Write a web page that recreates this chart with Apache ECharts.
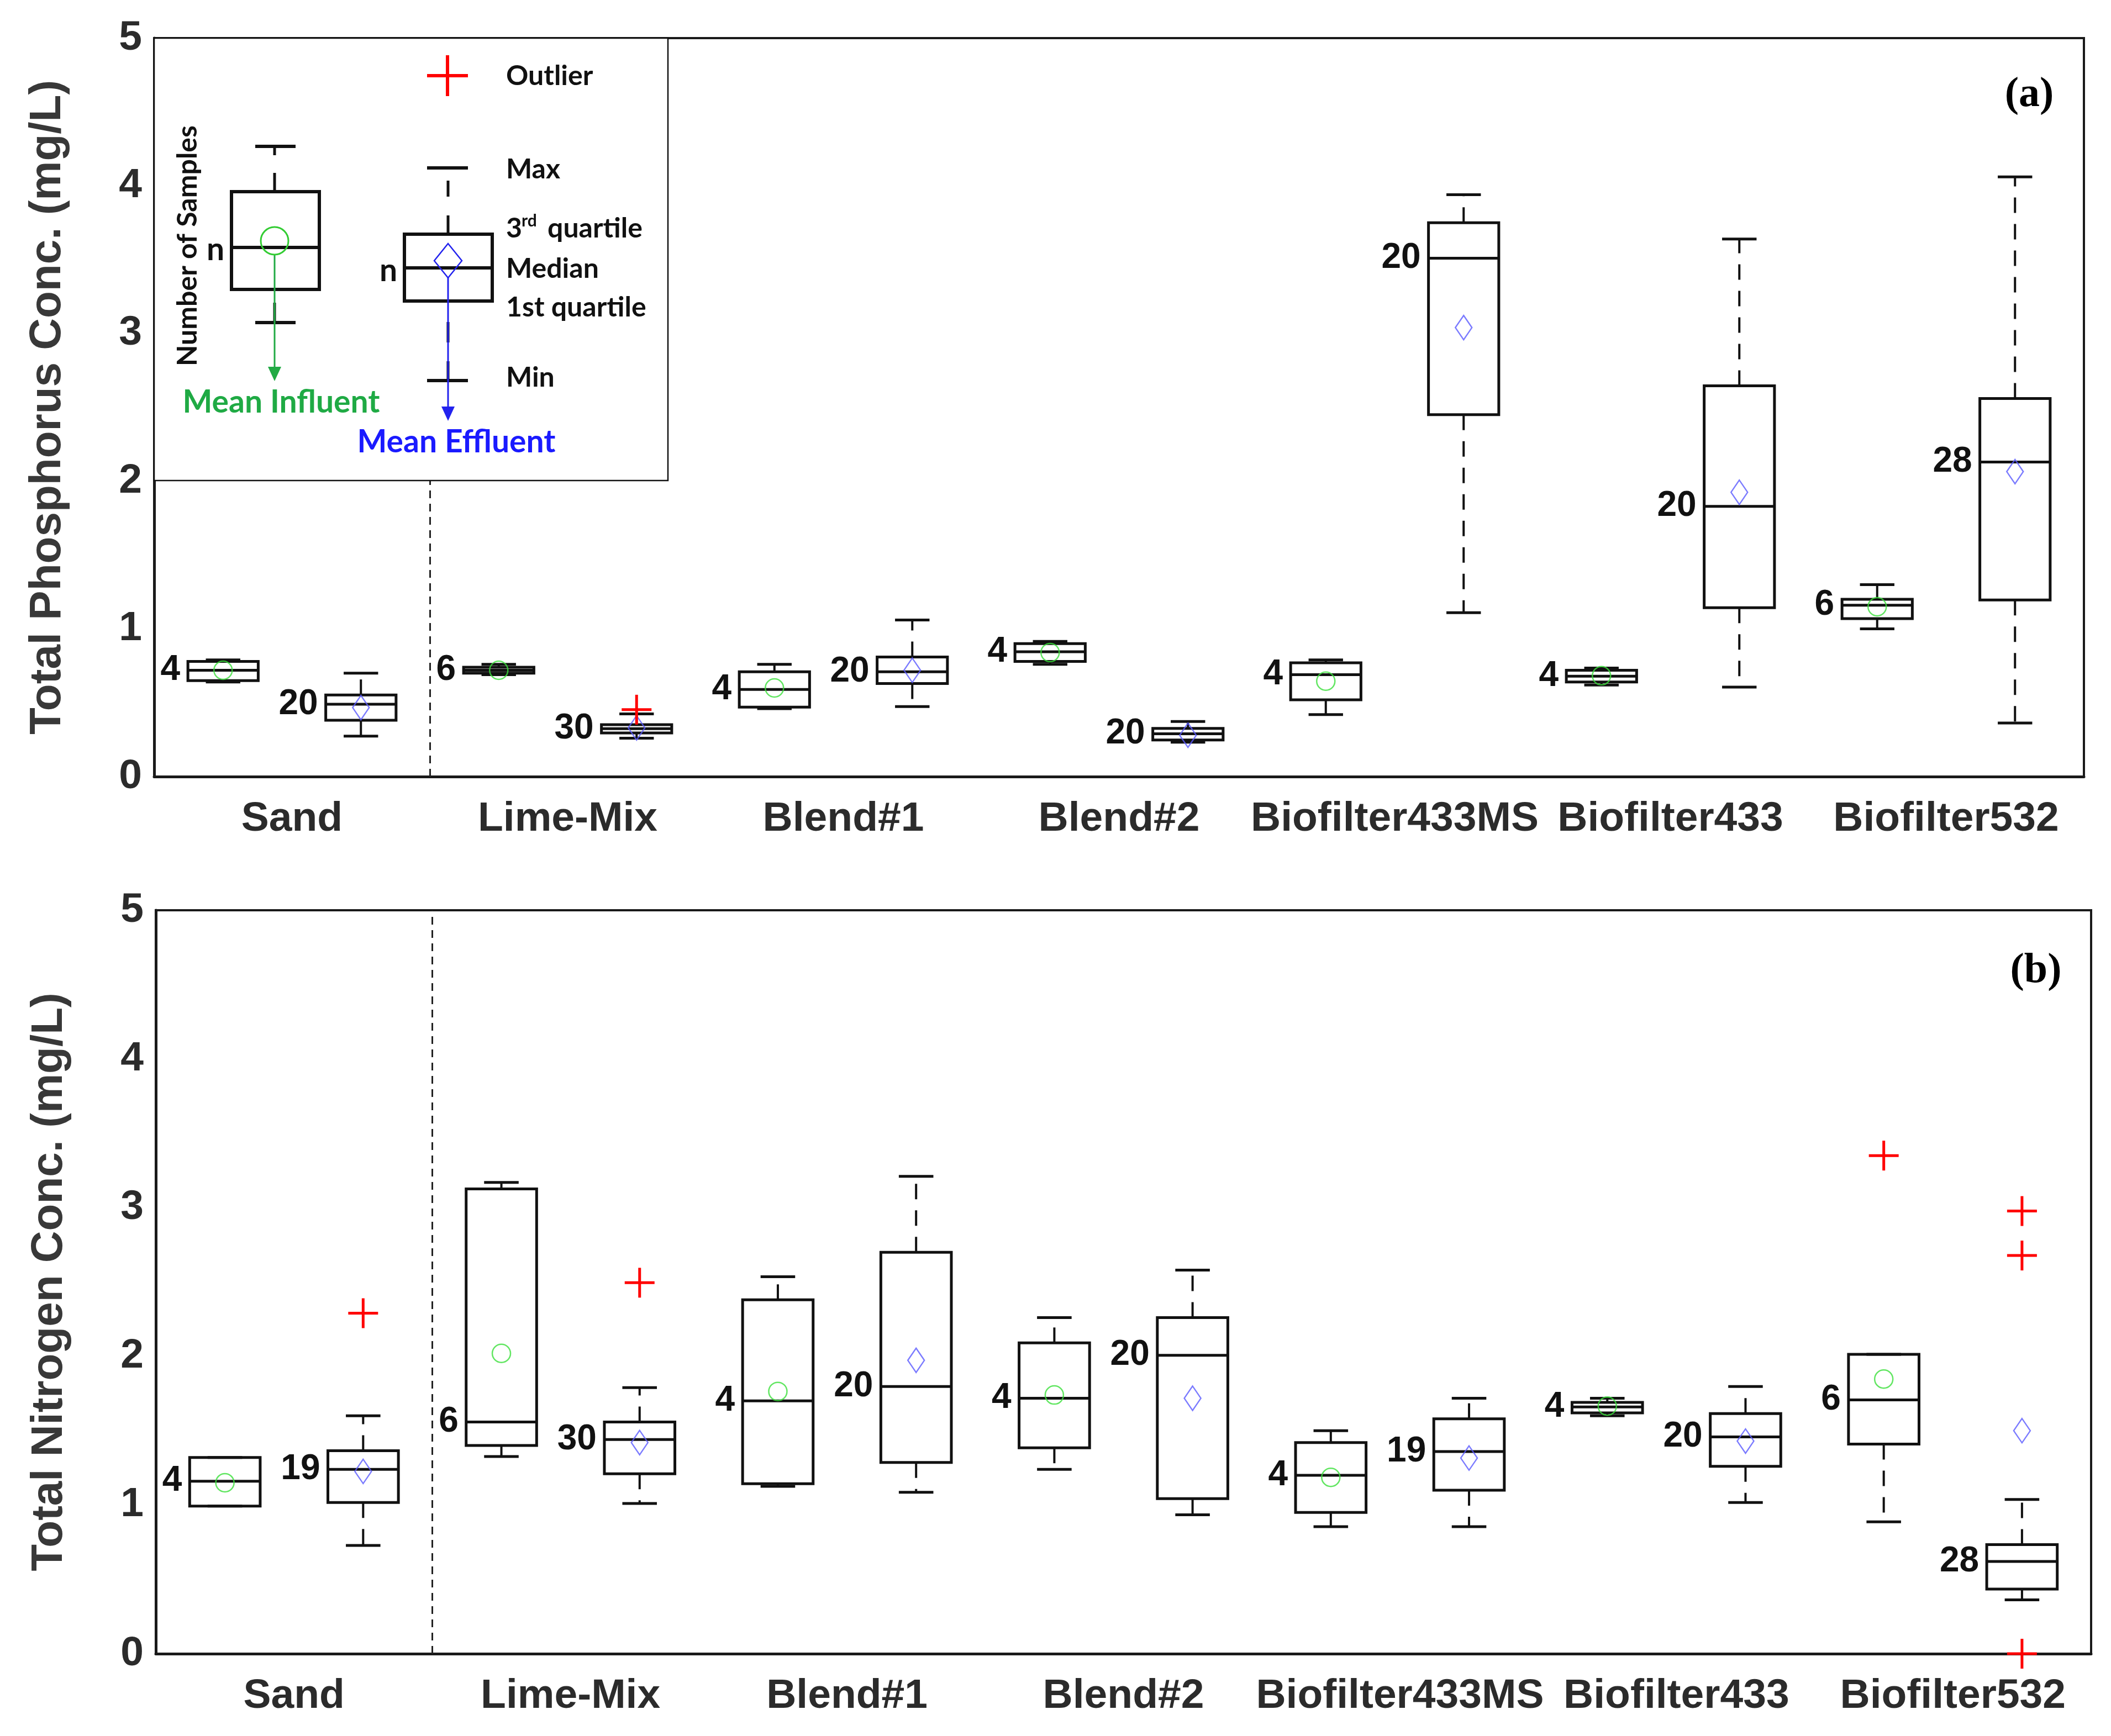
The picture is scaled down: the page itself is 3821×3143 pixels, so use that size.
<!DOCTYPE html>
<html>
<head>
<meta charset="utf-8">
<script src="https://cdn.jsdelivr.net/npm/echarts@6/dist/echarts.min.js"></script>
<style>
html,body{margin:0;padding:0;background:#fff;}
#chart{width:3821px;height:3143px;}
</style>
</head>
<body>
<div id="chart"></div>
<script>
// ---------------- DATA ----------------
const CATEGORIES = ['Sand', 'Lime-Mix', 'Blend#1', 'Blend#2', 'Biofilter433MS', 'Biofilter433', 'Biofilter532'];
const Y_TICK_LABELS = ['0', '1', '2', '3', '4', '5'];

// Total Phosphorus (a): [min, q1, median, q3, max]
const TP_INF_STATS = [
  [0.64, 0.65, 0.72, 0.78, 0.79],
  [0.69, 0.70, 0.72, 0.74, 0.76],
  [0.46, 0.47, 0.59, 0.71, 0.76],
  [0.76, 0.78, 0.845, 0.90, 0.915],
  [0.42, 0.52, 0.69, 0.77, 0.79],
  [0.62, 0.64, 0.68, 0.72, 0.735],
  [1.00, 1.07, 1.16, 1.20, 1.30]
];
const TP_INF_MEAN = [0.72, 0.72, 0.60, 0.84, 0.646, 0.683, 1.15];
const TP_INF_N = [4, 6, 4, 4, 4, 4, 6];
const TP_INF_OUTLIERS = [[], [], [], [], [], [], []];

const TP_EFF_STATS = [
  [0.274, 0.381, 0.49, 0.553, 0.70],
  [0.26, 0.295, 0.324, 0.352, 0.424],
  [0.474, 0.63, 0.71, 0.81, 1.06],
  [0.233, 0.248, 0.29, 0.326, 0.373],
  [1.11, 2.45, 3.51, 3.75, 3.94],
  [0.606, 1.143, 1.83, 2.646, 3.64],
  [0.363, 1.196, 2.13, 2.56, 4.06]
];
const TP_EFF_MEAN = [0.467, 0.33, 0.72, 0.28, 3.04, 1.925, 2.065];
const TP_EFF_N = [20, 30, 20, 20, 20, 20, 28];
const TP_EFF_OUTLIERS = [[], [0.453], [], [], [], [], []];

// Total Nitrogen (b)
const TN_INF_STATS = [
  [0.993, 0.993, 1.16, 1.32, 1.32],
  [1.326, 1.40, 1.558, 3.126, 3.17],
  [1.126, 1.143, 1.70, 2.38, 2.535],
  [1.24, 1.385, 1.718, 2.09, 2.26],
  [0.854, 0.95, 1.20, 1.42, 1.50],
  [1.60, 1.62, 1.66, 1.69, 1.718],
  [0.887, 1.41, 1.707, 2.013, 2.013]
];
const TN_INF_MEAN = [1.15, 2.02, 1.764, 1.74, 1.186, 1.665, 1.847];
const TN_INF_N = [4, 6, 4, 4, 4, 4, 6];
const TN_INF_OUTLIERS = [[], [], [], [], [], [], [3.35]];

const TN_EFF_STATS = [
  [0.728, 1.017, 1.24, 1.365, 1.60],
  [1.01, 1.21, 1.44, 1.558, 1.79],
  [1.086, 1.286, 1.797, 2.70, 3.21],
  [0.934, 1.043, 2.007, 2.26, 2.58],
  [0.854, 1.10, 1.36, 1.58, 1.718],
  [1.017, 1.26, 1.458, 1.615, 1.797],
  [0.362, 0.435, 0.62, 0.734, 1.037]
];
const TN_EFF_MEAN = [1.226, 1.42, 1.973, 1.718, 1.316, 1.43, 1.50];
const TN_EFF_N = [19, 30, 20, 20, 19, 20, 28];
const TN_EFF_OUTLIERS = [[2.29], [2.495], [], [], [], [], [2.977, 2.678, 0.0]];

// ---------------- STYLE / LAYOUT ----------------
const BOX_W = 0.51, CAP_W = 0.25;
const INK = '#111';
const GREEN = '#3be03b', BLUE = '#5a5aff', RED = '#ff0000';

function groupX(i, side) { return 2 * i + (side === 'inf' ? 0.5 : 1.5); }

function boxData(stats, n, side) {
  return stats.map((s, i) => [groupX(i, side)].concat(s).concat([n[i]]));
}
function meanData(means, side) { return means.map((m, i) => [groupX(i, side), m]); }
function outlierData(outs, side) {
  const d = [];
  outs.forEach((arr, i) => arr.forEach(v => d.push([groupX(i, side), v])));
  return d;
}

function renderBox(params, api) {
  const x = api.value(0);
  const mn = api.value(1), q1 = api.value(2), md = api.value(3), q3 = api.value(4), mx = api.value(5), n = api.value(6);
  const pMin = api.coord([x, mn]), pQ1 = api.coord([x, q1]), pMd = api.coord([x, md]);
  const pQ3 = api.coord([x, q3]), pMax = api.coord([x, mx]);
  const hw = api.size([BOX_W, 0])[0] / 2;
  const cw = api.size([CAP_W, 0])[0] / 2;
  const cx = pMd[0];
  const dash = {stroke: INK, lineWidth: 4, lineDash: [28, 20]};
  const solid = {stroke: INK, lineWidth: 5};
  return {
    type: 'group',
    children: [
      {type: 'line', shape: {x1: cx, y1: pQ3[1], x2: cx, y2: pMax[1]}, style: dash},
      {type: 'line', shape: {x1: cx, y1: pQ1[1], x2: cx, y2: pMin[1]}, style: dash},
      {type: 'line', shape: {x1: cx - cw, y1: pMax[1], x2: cx + cw, y2: pMax[1]}, style: solid},
      {type: 'line', shape: {x1: cx - cw, y1: pMin[1], x2: cx + cw, y2: pMin[1]}, style: solid},
      {type: 'rect', shape: {x: cx - hw, y: pQ3[1], width: 2 * hw, height: pQ1[1] - pQ3[1]},
        style: {fill: 'none', stroke: INK, lineWidth: 5}},
      {type: 'line', shape: {x1: cx - hw, y1: pMd[1], x2: cx + hw, y2: pMd[1]}, style: solid},
      {type: 'text', x: cx - hw - 14, y: pMd[1],
        style: {text: String(n), align: 'right', verticalAlign: 'middle', fill: INK,
          font: 'bold 64px "Liberation Sans", Arial, sans-serif'}}
    ]
  };
}

function renderOutlier(params, api) {
  const p = api.coord([api.value(0), api.value(1)]);
  const h = 27;
  const st = {stroke: RED, lineWidth: 5};
  return {
    type: 'group',
    children: [
      {type: 'line', shape: {x1: p[0] - h, y1: p[1], x2: p[0] + h, y2: p[1]}, style: st},
      {type: 'line', shape: {x1: p[0], y1: p[1] - h, x2: p[0], y2: p[1] + h}, style: st}
    ]
  };
}

function panelSeries(idx, infStats, infN, infMean, infOut, effStats, effN, effMean, effOut) {
  const common = {xAxisIndex: idx, yAxisIndex: idx, silent: true};
  return [
    Object.assign({type: 'custom', renderItem: renderBox, data: boxData(infStats, infN, 'inf'), clip: false}, common),
    Object.assign({type: 'custom', renderItem: renderBox, data: boxData(effStats, effN, 'eff'), clip: false,
      markLine: {
        silent: true, symbol: ['none', 'none'], label: {show: false},
        lineStyle: {type: [14, 10], width: 3, color: '#222'},
        data: [{xAxis: 2}]
      }}, common),
    Object.assign({type: 'scatter', data: meanData(infMean, 'inf'), symbol: 'circle', symbolSize: 33,
      itemStyle: {color: 'rgba(0,0,0,0)', borderColor: GREEN, borderWidth: 2.5}, z: 5}, common),
    Object.assign({type: 'scatter', data: meanData(effMean, 'eff'), symbol: 'diamond', symbolSize: [30, 44],
      itemStyle: {color: 'rgba(0,0,0,0)', borderColor: BLUE, borderWidth: 2.5}, z: 5}, common),
    Object.assign({type: 'custom', renderItem: renderOutlier,
      data: outlierData(infOut, 'inf').concat(outlierData(effOut, 'eff')), clip: false, z: 6}, common)
  ];
}

function xAxisCfg(idx) {
  return {
    type: 'value', gridIndex: idx, min: 0, max: 14, interval: 1,
    axisLine: {show: true, lineStyle: {color: '#1a1a1a', width: 5}},
    axisTick: {show: false}, splitLine: {show: false},
    axisLabel: {
      margin: 40, color: '#2b2b2b', fontSize: 75, fontWeight: 'bold', fontFamily: '"Liberation Sans", Arial, sans-serif',
      showMinLabel: true, showMaxLabel: true,
      formatter: v => { const r = Math.round(v); return (r % 2 === 1) ? CATEGORIES[(r - 1) / 2] : ''; }
    }
  };
}
function yAxisCfg(idx, name) {
  return {
    type: 'value', gridIndex: idx, min: 0, max: 5, interval: 1,
    name: name, nameLocation: 'middle', nameGap: 152,
    nameTextStyle: {fontSize: 80, fontWeight: 'bold', color: '#383838', fontFamily: '"Liberation Sans", Arial, sans-serif'},
    axisLine: {show: true, lineStyle: {color: '#1a1a1a', width: 5}},
    axisTick: {show: false}, splitLine: {show: false},
    axisLabel: {margin: 22, color: '#2b2b2b', fontSize: 75, fontWeight: 'bold', fontFamily: '"Liberation Sans", Arial, sans-serif',
      formatter: v => Y_TICK_LABELS[Math.round(v)]}
  };
}

// ---- inset legend (schematic, pixel layout) ----
const LF = 'bold 50px Lato, "Open Sans", sans-serif';
const LF_BIG = 'bold 57px Lato, "Open Sans", sans-serif';
function L(x1, y1, x2, y2, stroke, w) { return {type: 'line', z: 60, shape: {x1, y1, x2, y2}, style: {stroke, lineWidth: w}}; }
function T(x, y, text, fill, align, font, extra) {
  return Object.assign({type: 'text', z: 60, x, y, style: {text, fill, align: align || 'left', verticalAlign: 'middle', font: font || LF}}, extra || {});
}
const legendEls = [
  {type: 'rect', z: 50, shape: {x: 279, y: 69, width: 930, height: 801}, style: {fill: '#fff', stroke: '#111', lineWidth: 2.5}},
  // influent schematic
  {type: 'rect', z: 60, shape: {x: 419, y: 347, width: 159, height: 177}, style: {fill: 'none', stroke: '#111', lineWidth: 6}},
  L(419, 448, 578, 448, '#111', 6),
  L(462, 265, 535, 265, '#111', 6), L(497, 265, 497, 281, '#111', 5), L(497, 313, 497, 347, '#111', 5),
  L(462, 584, 535, 584, '#111', 6), L(497, 548, 497, 584, '#111', 5),
  {type: 'circle', z: 61, shape: {cx: 497, cy: 436, r: 25}, style: {fill: 'none', stroke: '#33cc33', lineWidth: 3}},
  L(497, 461, 497, 672, '#22aa44', 3),
  {type: 'polygon', z: 61, shape: {points: [[485, 664], [509, 664], [497, 690]]}, style: {fill: '#22aa44'}},
  T(390, 453, 'n', '#111', 'center', LF_BIG),
  T(340, 445, 'Number of Samples', '#111', 'center', LF, {rotation: Math.PI / 2}),
  T(509, 729, 'Mean Influent', '#1faa44', 'center', LF_BIG),
  // effluent schematic
  {type: 'rect', z: 60, shape: {x: 732, y: 424, width: 159, height: 121}, style: {fill: 'none', stroke: '#111', lineWidth: 6}},
  L(732, 485, 891, 485, '#111', 6),
  L(773, 304, 847, 304, '#111', 6), L(811, 327, 811, 356, '#111', 5), L(811, 390, 811, 424, '#111', 5),
  L(773, 689, 847, 689, '#111', 6), L(811, 583, 811, 620, '#111', 5), L(811, 654, 811, 689, '#111', 5),
  {type: 'polygon', z: 61, shape: {points: [[811, 441], [836, 472], [811, 503], [786, 472]]}, style: {fill: 'none', stroke: '#2222ee', lineWidth: 2.5}},
  L(811, 503, 811, 744, '#2222ee', 3),
  {type: 'polygon', z: 61, shape: {points: [[799, 736], [823, 736], [811, 762]]}, style: {fill: '#2222ee'}},
  T(703, 491, 'n', '#111', 'center', LF_BIG),
  T(826, 801, 'Mean Effluent', '#1a1aff', 'center', LF_BIG),
  // outlier
  L(773, 137, 847, 137, RED, 6), L(810, 100, 810, 174, RED, 6),
  // text labels
  T(916, 138, 'Outlier', '#111'),
  T(916, 307, 'Max', '#111'),
  T(916, 414, '3', '#111'),
  T(944, 400, 'rd', '#111', 'left', 'bold 30px Lato, "Open Sans", sans-serif'),
  T(991, 414, 'quartile', '#111'),
  T(916, 487, 'Median', '#111'),
  T(916, 557, '1st quartile', '#111'),
  T(916, 684, 'Min', '#111'),
  // panel tags
  T(3673, 172, '(a)', '#000', 'center', 'bold 76px "Liberation Serif", "Times New Roman", serif'),
  T(3685, 1758, '(b)', '#000', 'center', 'bold 76px "Liberation Serif", "Times New Roman", serif')
];

const chart = echarts.init(document.getElementById('chart'), null, {renderer: 'canvas'});
chart.setOption({
  backgroundColor: '#fff',
  animation: false,
  grid: [
    {left: 279, top: 69, width: 3493, height: 1337, show: true, borderColor: '#1a1a1a', borderWidth: 4, backgroundColor: 'rgba(0,0,0,0)'},
    {left: 282, top: 1648, width: 3503, height: 1346, show: true, borderColor: '#1a1a1a', borderWidth: 4, backgroundColor: 'rgba(0,0,0,0)'}
  ],
  xAxis: [xAxisCfg(0), xAxisCfg(1)],
  yAxis: [yAxisCfg(0, 'Total Phosphorus Conc. (mg/L)'), yAxisCfg(1, 'Total Nitrogen Conc. (mg/L)')],
  series: []
    .concat(panelSeries(0, TP_INF_STATS, TP_INF_N, TP_INF_MEAN, TP_INF_OUTLIERS, TP_EFF_STATS, TP_EFF_N, TP_EFF_MEAN, TP_EFF_OUTLIERS))
    .concat(panelSeries(1, TN_INF_STATS, TN_INF_N, TN_INF_MEAN, TN_INF_OUTLIERS, TN_EFF_STATS, TN_EFF_N, TN_EFF_MEAN, TN_EFF_OUTLIERS)),
  graphic: {elements: legendEls}
});
</script>
</body>
</html>
